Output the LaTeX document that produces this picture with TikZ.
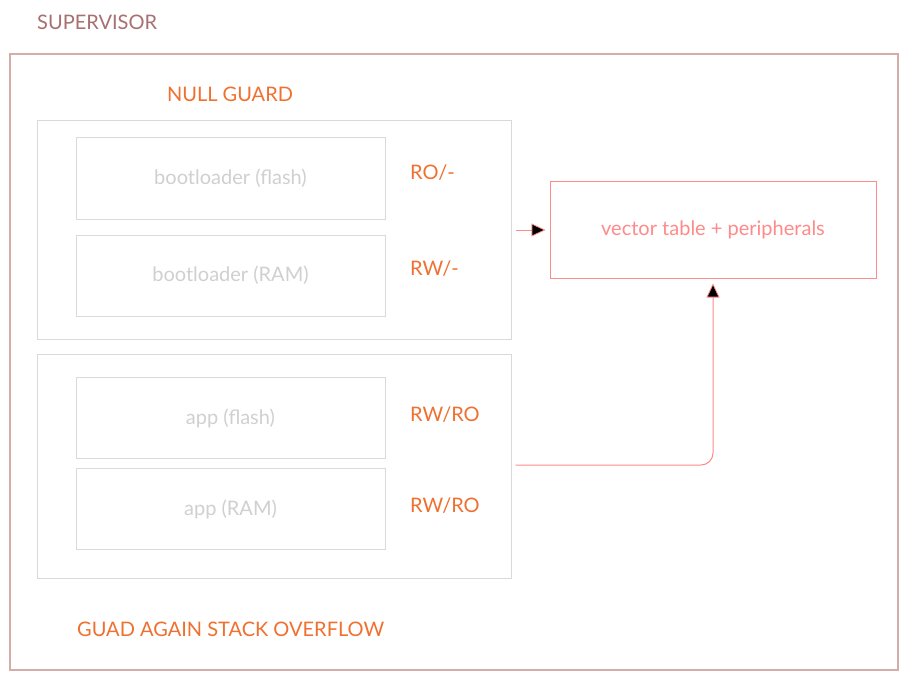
\documentclass[tikz,border=0pt]{standalone}
\usepackage{fontspec}
\setmainfont{Lato}
\usepackage{xcolor}
\usepackage{tikz}
\usetikzlibrary{arrows.meta, positioning, calc}
\definecolor{SupBorder}{RGB}{212, 172, 170}
\definecolor{SupText}{RGB}{168, 112, 112}
\definecolor{GuardOrange}{RGB}{240, 112, 48}
\definecolor{BoxGray}{RGB}{217, 217, 217}
\definecolor{BoxText}{RGB}{208, 208, 208}
\definecolor{VecPink}{RGB}{255, 138, 138}

\tikzset{
  memgroup/.style={draw=BoxGray, line width=1pt, inner sep=0pt},
  membox/.style={draw=BoxGray, line width=1pt, text=BoxText, minimum width=309pt, minimum height=81pt, inner sep=0pt},
  perm/.style={text=GuardOrange, anchor=west, inner sep=0pt},
  link/.style={VecPink, line width=1pt, -{Triangle[fill=black, length=14pt, width=13pt, line width=0.8pt]}}
}

\begin{document}
\begin{tikzpicture}[x=1pt,y=-1pt, font=\fontsize{20}{24}\selectfont]
  \path[use as bounding box] (0,0) rectangle (907,679);
  \fill[white] (0,0) rectangle (907,679);
  % supervisor frame
  \node[text=SupText, anchor=west, inner sep=0pt] (suplabel) at (37,22) {SUPERVISOR};
  \draw[SupBorder, line width=1.3pt] (10,54) rectangle (898,670);
  \node[text=GuardOrange, inner sep=0pt] (nulllabel) at (230,94) {NULL GUARD};
  \node[text=GuardOrange, anchor=west, inner sep=0pt] (stacklabel) at (77,629) {GUAD AGAIN STACK OVERFLOW};
  % bootloader group
  \node[memgroup, minimum width=474pt, minimum height=218pt] (bootgrp) at (274,230) {};
  \node[membox] (bootflash) at (230.5,178.5) {bootloader (flash)};
  \node[membox] (bootram) at (230.5,275.5) {bootloader (RAM)};
  \node[perm] (permbf) at (410,173) {RO/-};
  \node[perm] (permbr) at (410,269) {RW/-};
  % app group
  \node[memgroup, minimum width=474pt, minimum height=224pt] (appgrp) at (274,466) {};
  \node[membox] (appflash) at (230.5,418) {app (flash)};
  \node[membox] (appram) at (230.5,509) {app (RAM)};
  \node[perm] (permaf) at (410,415) {RW/RO};
  \node[perm] (permar) at (410,506) {RW/RO};
  % target
  \node[draw=VecPink, line width=1pt, text=VecPink, minimum width=326pt, minimum height=96pt, inner sep=0pt] (vectab) at (713,230) {vector table + peripherals};
  % connectors
  \draw[link] ([xshift=4pt]bootgrp.east) -- ([xshift=-4pt]vectab.west);
  \draw[link, rounded corners=12pt] ([xshift=4pt,yshift=1pt]appgrp.east) -| ([yshift=-5pt]vectab.south);
\end{tikzpicture}
\end{document}
